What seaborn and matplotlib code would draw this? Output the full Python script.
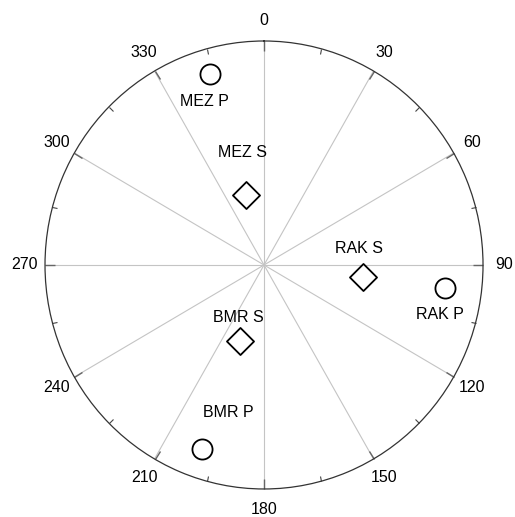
import numpy as np
import pandas as pd
import matplotlib
matplotlib.use("Agg")
import matplotlib.pyplot as plt
import seaborn as sns

# Station phase observations: back-azimuth (deg) and incidence (deg)
stations = ["MEZ", "MEZ", "RAK", "RAK", "BMR", "BMR"]
phases = ["P", "S", "S", "P", "S", "P"]
azimuth = [344, 345, 97, 97, 198, 199]
incidence = [80, 29, 41, 75, 32, 78]

angle_ticks = list(range(0, 360, 30))
angle_labels = [str(a) for a in angle_ticks]

df = pd.DataFrame({"station": stations, "phase": phases,
                   "azimuth": azimuth, "incidence": incidence})
df["theta"] = np.deg2rad(df["azimuth"])
df["label"] = df["station"] + " " + df["phase"]

sns.set_style("white")
plt.rcParams["font.family"] = ["Liberation Sans", "DejaVu Sans"]
plt.rcParams["text.color"] = "black"
plt.rcParams["xtick.labelcolor"] = "black"

fig = plt.figure(figsize=(5.15, 5.17), dpi=100)
ax = fig.add_axes([0.0874, 0.0542, 0.8505, 0.8665], projection="polar")
ax.set_aspect("auto")
ax.set_theta_zero_location("N")
ax.set_theta_direction(-1)
ax.set_rlim(0, 90)

p_df = df[df["phase"] == "P"]
s_df = df[df["phase"] == "S"]
sns.scatterplot(data=p_df, x="theta", y="incidence", marker="o", s=210,
                color="white", edgecolor="black", linewidth=1.3,
                legend=False, ax=ax, zorder=3, clip_on=False)
sns.scatterplot(data=s_df, x="theta", y="incidence", marker="D", s=190,
                color="white", edgecolor="black", linewidth=1.3,
                legend=False, ax=ax, zorder=3, clip_on=False)

# label placement relative to each marker (points)
offsets = {"MEZ P": (-4, -20), "MEZ S": (-2, 31), "RAK S": (-3, 21),
           "RAK P": (-4, -19), "BMR S": (-1, 17), "BMR P": (19, 26)}
for _, row in df.iterrows():
    ax.annotate(row["label"], (row["theta"], row["incidence"]),
                xytext=offsets[row["label"]], textcoords="offset points",
                ha="center", va="center", fontsize=11.5, color="black")

ax.set_xticks(np.deg2rad(angle_ticks))
ax.set_xticklabels(angle_labels, fontsize=11.5, color="black")
ax.set_xticks(np.deg2rad(np.arange(15, 360, 30)), minor=True)
# tick marks on the outer rim, pointing inward
ax.tick_params(axis="x", which="both", bottom=False, top=True,
               labelbottom=True, labeltop=False)
ax.tick_params(axis="x", which="major", direction="in", length=7,
               width=1.0, color="#666666", pad=8)
ax.tick_params(axis="x", which="minor", direction="in", length=4,
               width=0.8, color="#444444")
ax.set_yticks([])
ax.grid(True, axis="x", color="#c4c4c4", linewidth=0.8)
ax.grid(False, axis="y")
ax.spines["polar"].set_color("#333333")
ax.spines["polar"].set_linewidth(0.9)
ax.set_xlabel("")
ax.set_ylabel("")

fig.savefig("out.png", dpi=100, facecolor="white")
